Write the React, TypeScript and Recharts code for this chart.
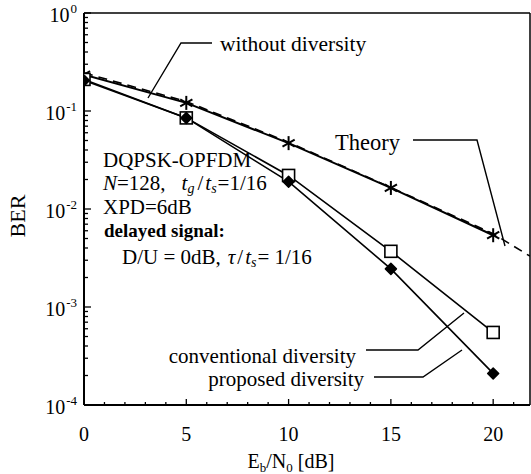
import React from "react";
import { LineChart, Line, XAxis, YAxis, ReferenceLine } from "recharts";

// Eb/N0 [dB] of the simulated points
const ebn0 = [0, 5, 10, 15, 20];
// BER values
const berWithout = [0.235, 0.121, 0.047, 0.0164, 0.0054];
const berConventional = [0.21, 0.085, 0.022, 0.0037, 0.00055];
const berProposed = [0.205, 0.085, 0.019, 0.00245, 0.00021];
// theory curve (dashed)
const theoryEbn0 = [0, 5, 10, 15, 20, 21.8];
const berTheory = [0.245, 0.125, 0.048, 0.0166, 0.0056, 0.0033];

// axes
const xMax = 21.8;
const xTicks = [0, 1, 2, 3, 4, 5, 6, 7, 8, 9, 10, 11, 12, 13, 14, 15, 16, 17, 18, 19, 20, 21];
const yMajor = [1e-4, 1e-3, 1e-2, 1e-1, 1];
const yExponents = ["-4", "-3", "-2", "-1", "0"];
const yMinorMultipliers = [2, 3, 4, 5, 6, 7, 8, 9];

const yTicks = [
  ...yMajor,
  ...yMajor.slice(0, -1).flatMap((d) => yMinorMultipliers.map((m) => m * d)),
];

const serif = "'Liberation Serif', 'Times New Roman', serif";

const toSeries = (xs: number[], ys: number[]) => xs.map((x, i) => ({ x, ber: ys[i] }));

const withoutData = toSeries(ebn0, berWithout);
const conventionalData = toSeries(ebn0, berConventional);
const proposedData = toSeries(ebn0, berProposed);
const theoryData = toSeries(theoryEbn0, berTheory);

const YTick = (props: any) => {
  const { x, y, payload } = props;
  const idx = yMajor.indexOf(payload.value);
  const major = idx >= 0;
  return (
    <g>
      <line x1={x} x2={x + (major ? 7 : 4)} y1={y} y2={y} stroke="#000" strokeWidth={1.3} />
      {major && (
        <text x={x - 7} y={y + 9} textAnchor="end" fontSize={20} fontFamily={serif} fill="#000">
          10
          <tspan dy={-9} dx={1} fontSize={13}>
            {yExponents[idx]}
          </tspan>
        </text>
      )}
    </g>
  );
};

const XTick = (props: any) => {
  const { x, y, payload } = props;
  const major = payload.value % 5 === 0;
  return (
    <g>
      <line x1={x} x2={x} y1={y} y2={y - (major ? 6 : 3)} stroke="#000" strokeWidth={1.3} />
      {major && (
        <text x={x} y={y + 36} textAnchor="middle" fontSize={20} fontFamily={serif} fill="#000">
          {payload.value}
        </text>
      )}
    </g>
  );
};

// asterisk: vertical arm plus two arms at +/-30 deg
const StarDot = (props: any) => {
  const { cx, cy, index } = props;
  const r = 7;
  const dx = r * 0.87;
  const dy = r * 0.5;
  return (
    <g key={`s-${index}`} stroke="#000" strokeWidth={2}>
      <line x1={cx} x2={cx} y1={cy - r} y2={cy + r} />
      <line x1={cx - dx} x2={cx + dx} y1={cy - dy} y2={cy + dy} />
      <line x1={cx - dx} x2={cx + dx} y1={cy + dy} y2={cy - dy} />
    </g>
  );
};

const SquareDot = (props: any) => {
  const { cx, cy, index } = props;
  return (
    <rect key={`q-${index}`} x={cx - 6} y={cy - 6} width={12} height={12} fill="#fff" stroke="#000" strokeWidth={1.6} />
  );
};

const FilledDot = (props: any) => {
  const { cx, cy, index } = props;
  const r = 5.5;
  return (
    <path
      key={`p-${index}`}
      d={`M${cx},${cy - r} L${cx + r},${cy} L${cx},${cy + r} L${cx - r},${cy} Z`}
      fill="#000"
      stroke="#000"
      strokeWidth={1.5}
      strokeLinejoin="round"
    />
  );
};

function Annotations() {
  const t = { fontFamily: serif, fill: "#000" };
  const leader = { fill: "none", stroke: "#000", strokeWidth: 1.4 };
  return (
    <svg width={531} height={474} style={{ position: "absolute", left: 0, top: 0, pointerEvents: "none" }}>
      <polyline points="148,98 181,43 212,43" {...leader} />
      <text x={220} y={51} fontSize={21.5} {...t}>without diversity</text>

      <polyline points="413,140 477,140 505,246" {...leader} />
      <text x={335} y={150} fontSize={22.5} {...t}>Theory</text>

      <text x={103} y={167} fontSize={21} {...t}>DQPSK-OPFDM</text>
      <text x={103} y={190} fontSize={21} {...t}>
        <tspan fontStyle="italic">N</tspan>=128,
        <tspan dx={16} fontStyle="italic">t</tspan>
        <tspan fontStyle="italic" fontSize={14} dy={3}>g</tspan>
        <tspan dx={3} dy={-3}>/</tspan>
        <tspan dx={2} fontStyle="italic">t</tspan>
        <tspan fontStyle="italic" fontSize={14} dy={3}>s</tspan>
        <tspan dx={1} dy={-3}>=1/16</tspan>
      </text>
      <text x={103} y={214} fontSize={21} {...t}>XPD=6dB</text>
      <text x={104} y={237} fontSize={19} fontWeight="bold" {...t}>delayed signal:</text>
      <text x={122} y={264} fontSize={21} {...t}>
        D/U = 0dB,
        <tspan dx={7} fontStyle="italic">τ</tspan>
        <tspan dx={2}>/</tspan>
        <tspan dx={2} fontStyle="italic">t</tspan>
        <tspan fontStyle="italic" fontSize={14} dy={3}>s</tspan>
        <tspan dx={1} dy={-3}>= 1/16</tspan>
      </text>

      <polyline points="366,350 418,350 464,313" {...leader} />
      <text x={356} y={363} fontSize={21} textAnchor="end" {...t}>conventional diversity</text>
      <polyline points="374,377 423,377 462,350" {...leader} />
      <text x={364} y={386} fontSize={21} textAnchor="end" {...t}>proposed diversity</text>

      <text x={291} y={468} fontSize={20} textAnchor="middle" {...t}>
        E<tspan fontSize={13} dy={4}>b</tspan>
        <tspan dy={-4}>/N</tspan>
        <tspan fontSize={13} dy={4}>0</tspan>
        <tspan dy={-4}> [dB]</tspan>
      </text>
      <text x={25} y={216} fontSize={22} textAnchor="middle" transform="rotate(-90 25 216)" {...t}>
        BER
      </text>
    </svg>
  );
}

export default function App() {
  return (
    <div style={{ position: "absolute", left: 0, top: 0, width: 531, height: 474, background: "#fff" }}>
      <LineChart width={531} height={474} margin={{ top: 13, right: 1, bottom: 0, left: 0 }}>
        <XAxis
          dataKey="x"
          type="number"
          domain={[0, xMax]}
          ticks={xTicks}
          interval={0}
          height={69}
          tickSize={0}
          tickMargin={0}
          tickLine={false}
          tick={<XTick />}
          axisLine={{ stroke: "#000", strokeWidth: 2 }}
          allowDataOverflow
        />
        <YAxis
          dataKey="ber"
          scale="log"
          type="number"
          domain={[1e-4, 1]}
          ticks={yTicks}
          interval={0}
          width={84}
          tickSize={0}
          tickMargin={0}
          tickLine={false}
          tick={<YTick />}
          axisLine={{ stroke: "#000", strokeWidth: 2 }}
          allowDataOverflow
        />
        <ReferenceLine y={1} stroke="#000" strokeWidth={1.5} />
        <ReferenceLine x={xMax} stroke="#000" strokeWidth={1.5} />
        <Line
          data={theoryData}
          dataKey="ber"
          type="linear"
          stroke="#000"
          strokeWidth={1.6}
          strokeDasharray="9 6"
          dot={false}
          isAnimationActive={false}
        />
        <Line
          data={withoutData}
          dataKey="ber"
          type="linear"
          stroke="#000"
          strokeWidth={2}
          dot={StarDot}
          isAnimationActive={false}
        />
        <Line
          data={conventionalData}
          dataKey="ber"
          type="linear"
          stroke="#000"
          strokeWidth={1.6}
          dot={SquareDot}
          isAnimationActive={false}
        />
        <Line
          data={proposedData}
          dataKey="ber"
          type="linear"
          stroke="#000"
          strokeWidth={1.6}
          dot={FilledDot}
          isAnimationActive={false}
        />
      </LineChart>
      <Annotations />
    </div>
  );
}
